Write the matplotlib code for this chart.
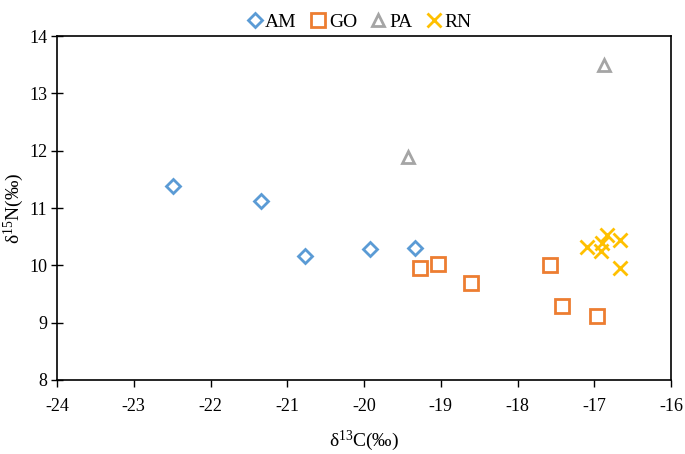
import matplotlib
matplotlib.use("Agg")
import matplotlib.pyplot as plt

plt.rcParams['font.family'] = ['Liberation Serif', 'DejaVu Serif']
plt.rcParams['mathtext.fontset'] = 'custom'
plt.rcParams['mathtext.rm'] = 'Liberation Serif'
plt.rcParams['mathtext.it'] = 'Liberation Serif:italic'

# d13C, d15N per group
am_c = [-22.49, -21.34, -20.77, -19.92, -19.34]
am_n = [11.38, 11.12, 10.16, 10.28, 10.31]
go_c = [-19.27, -19.04, -18.61, -17.58, -17.42, -16.96]
go_n = [9.95, 10.02, 9.69, 10.00, 9.29, 9.11]
pa_c = [-19.43, -16.87]
pa_n = [11.89, 13.49]
rn_c = [-17.09, -16.83, -16.90, -16.91, -16.66, -16.66]
rn_n = [10.32, 10.53, 10.39, 10.25, 10.45, 9.95]

fig = plt.figure(figsize=(6.85, 4.54), dpi=100)
ax = fig.add_axes([0.0832, 0.163, 0.8964, 0.7577])

ax.plot(am_c, am_n, 'D', ms=7, mfc='none', mec='#5B9BD5', mew=2, label='AM', ls='none')
ax.plot(go_c, go_n, 's', ms=9.5, mfc='none', mec='#ED7D31', mew=2, label='GO', ls='none')
ax.plot(pa_c, pa_n, '^', ms=9, mfc='none', mec='#A5A5A5', mew=2, label='PA', ls='none')
ax.plot(rn_c, rn_n, 'x', ms=10, mec='#FFC000', mew=2, label='RN', ls='none')

ax.set_xlim(-24, -16)
ax.set_ylim(8, 14)
ax.set_xticks(range(-24, -15))
ax.set_xticklabels([str(v) for v in range(-24, -15)])
ax.set_yticks(range(8, 15))
ax.tick_params(axis='both', labelsize=13, width=1, length=5, color='black')
ax.tick_params(axis='y', direction='inout', length=8, pad=3)
ax.tick_params(axis='x', direction='out', pad=8)
for s in ax.spines.values():
    s.set_linewidth(1.2)

ax.set_xlabel('δ$^{13}$C(‰)', fontsize=14, labelpad=10)
ax.set_ylabel('δ$^{15}$N(‰)', fontsize=14)
ax.yaxis.set_label_coords(-0.05, 0.5)

fig.legend(loc='upper center', bbox_to_anchor=(0.523, 1.01), ncol=4, frameon=False,
           fontsize=14, handletextpad=0.05, columnspacing=0.6, handlelength=1.0)

fig.savefig('out.png', dpi=100)
